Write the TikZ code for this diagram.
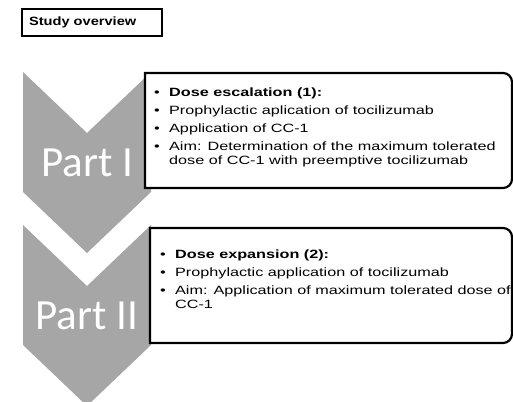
\documentclass[tikz,border=0pt]{standalone}
\usepackage{fontspec}
\setmainfont{Liberation Sans}
\newfontfamily\boxfont[FakeStretch=1.35]{Liberation Sans}
\newfontfamily\titlefont[FakeStretch=1.22]{Liberation Sans}
\newfontfamily\partfont{Carlito}
\definecolor{chevgray}{RGB}{166,166,166}
\tikzset{
  chevron/.style={fill=chevgray, draw=none},
  partlabel/.style={text=white, font=\partfont\fontsize{43}{43}\selectfont, anchor=base, inner sep=0pt},
  infobox/.style={draw=black, line width=2.2pt, fill=white},
  infotext/.style={font=\boxfont\fontsize{12}{14}\selectfont, align=left, anchor=base west, inner sep=0pt},
  titlebox/.style={draw=black, line width=2.8pt, font=\titlefont\bfseries\fontsize{12}{14}\selectfont,
    text width=126pt, inner xsep=7pt, inner ysep=0pt, minimum height=27pt, align=left}
}
\newcommand{\blt}{\makebox[15pt][l]{\textbullet}}

\begin{document}
\begin{tikzpicture}[x=1pt, y=-1pt]
  \useasboundingbox (0,0) rectangle (513,401);
  \clip (0,0) rectangle (513,401);

  % title
  \node[titlebox] (title) at (92,22.5) {Study overview};

  % chevrons
  \foreach \y/\lbl/\n in {72/{Part I}/1, 225/{Part II}/2} {
    \fill[chevron] (23,\y) -- (87,\y+61) -- (151,\y) -- (151,\y+120)
      -- (87,\y+181) -- (23,\y+120) -- cycle;
    \node[partlabel] (part\n) at (87,\y+104) {\lbl};
  }

  % boxes (base anchor = last line)
  \draw[infobox] (145,188) -- (145,73) -- (503,73) arc[start angle=-90, end angle=0, radius=9]
    -- (512,179) arc[start angle=0, end angle=90, radius=9] -- cycle;
  \node[infotext] (escalation) at (154,164) {\blt\textbf{Dose escalation (1):}\\[4pt]
    \blt Prophylactic aplication of tocilizumab\\[4pt]
    \blt Application of CC-1\\[4pt]
    \blt Aim: Determination of the maximum tolerated\\
    \hspace*{15pt}dose of CC-1 with preemptive tocilizumab};

  \draw[infobox] (150,343) -- (150,228) -- (503,228) arc[start angle=-90, end angle=0, radius=9]
    -- (512,334) arc[start angle=0, end angle=90, radius=9] -- cycle;
  \node[infotext] (expansion) at (160,308) {\blt\textbf{Dose expansion (2):}\\[4pt]
    \blt Prophylactic application of tocilizumab\\[4pt]
    \blt Aim: Application of maximum tolerated dose of\\
    \hspace*{15pt}CC-1};
\end{tikzpicture}
\end{document}
